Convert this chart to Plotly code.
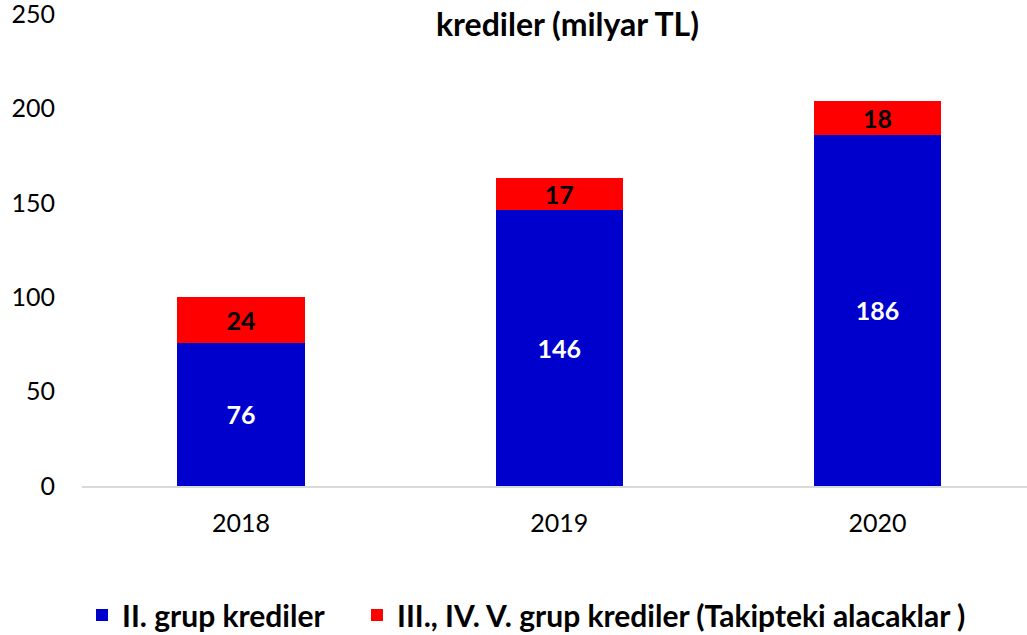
import plotly.graph_objects as go

years = ["2018", "2019", "2020"]
grup2 = [76, 146, 186]
grup345 = [24, 17, 18]
y_ticks = [0, 50, 100, 150, 200, 250]

FONT = "Lato, Calibri, Carlito, sans-serif"

fig = go.Figure()
fig.add_trace(go.Bar(
    x=years, y=grup2, name="II. grup krediler", legend="legend",
    marker=dict(color="#0000CC", line=dict(width=0)),
    text=[str(v) for v in grup2], textposition="inside", insidetextanchor="middle",
    textfont=dict(color="white", size=25, family=FONT, weight="bold"),
    textangle=0, constraintext="none", width=0.4,
))
fig.add_trace(go.Bar(
    x=years, y=grup345, name="III., IV. V. grup krediler (Takipteki alacaklar )", legend="legend2",
    marker=dict(color="#FF0000", line=dict(width=0)),
    text=[str(v) for v in grup345], textposition="inside", insidetextanchor="middle",
    textfont=dict(color="black", size=25, family=FONT, weight="bold"),
    textangle=0, constraintext="none", width=0.4,
))

PLOT_L, PLOT_R, PLOT_T, PLOT_B = 82, 1027, 14, 486
LEG_Y = (PLOT_B - 615) / (PLOT_B - PLOT_T)
leg_common = dict(orientation="h", xanchor="left", y=LEG_Y, yanchor="middle",
                  font=dict(size=30, family=FONT, weight="bold"), itemwidth=30,
                  bgcolor="rgba(0,0,0,0)")

fig.update_layout(
    barmode="stack",
    width=1027, height=635,
    margin=dict(l=PLOT_L, r=0, t=PLOT_T, b=635 - PLOT_B, autoexpand=False),
    plot_bgcolor="white", paper_bgcolor="white",
    font=dict(family=FONT, size=25, color="black"),
    showlegend=True,
    legend=dict(x=(82 - PLOT_L) / (PLOT_R - PLOT_L), **leg_common),
    legend2=dict(x=(357 - PLOT_L) / (PLOT_R - PLOT_L), **leg_common),
    uniformtext=dict(mode=False),
    annotations=[dict(text="<b>krediler (milyar TL)</b>",
                      xref="paper", yref="paper",
                      x=(567 - PLOT_L) / (PLOT_R - PLOT_L),
                      y=1 - (24 - PLOT_T) / (PLOT_B - PLOT_T),
                      xanchor="center", yanchor="middle",
                      showarrow=False, font=dict(size=32, family=FONT))],
)
fig.update_xaxes(range=[-0.5, 2.47], showline=True, linecolor="#D9D9D9", linewidth=1.5,
                 showgrid=False, ticks="", tickfont=dict(size=25), ticklabelstandoff=14,
                 automargin=False, ticklabeloverflow="allow")
fig.update_yaxes(range=[0, 250], tickvals=y_ticks, showgrid=False, showline=False, zeroline=False,
                 ticks="", tickfont=dict(size=25), ticklabelstandoff=26, automargin=False,
                 ticklabeloverflow="allow")

fig.write_html("out.html", config={"displayModeBar": False},
               post_script="document.body.style.margin='0';")
